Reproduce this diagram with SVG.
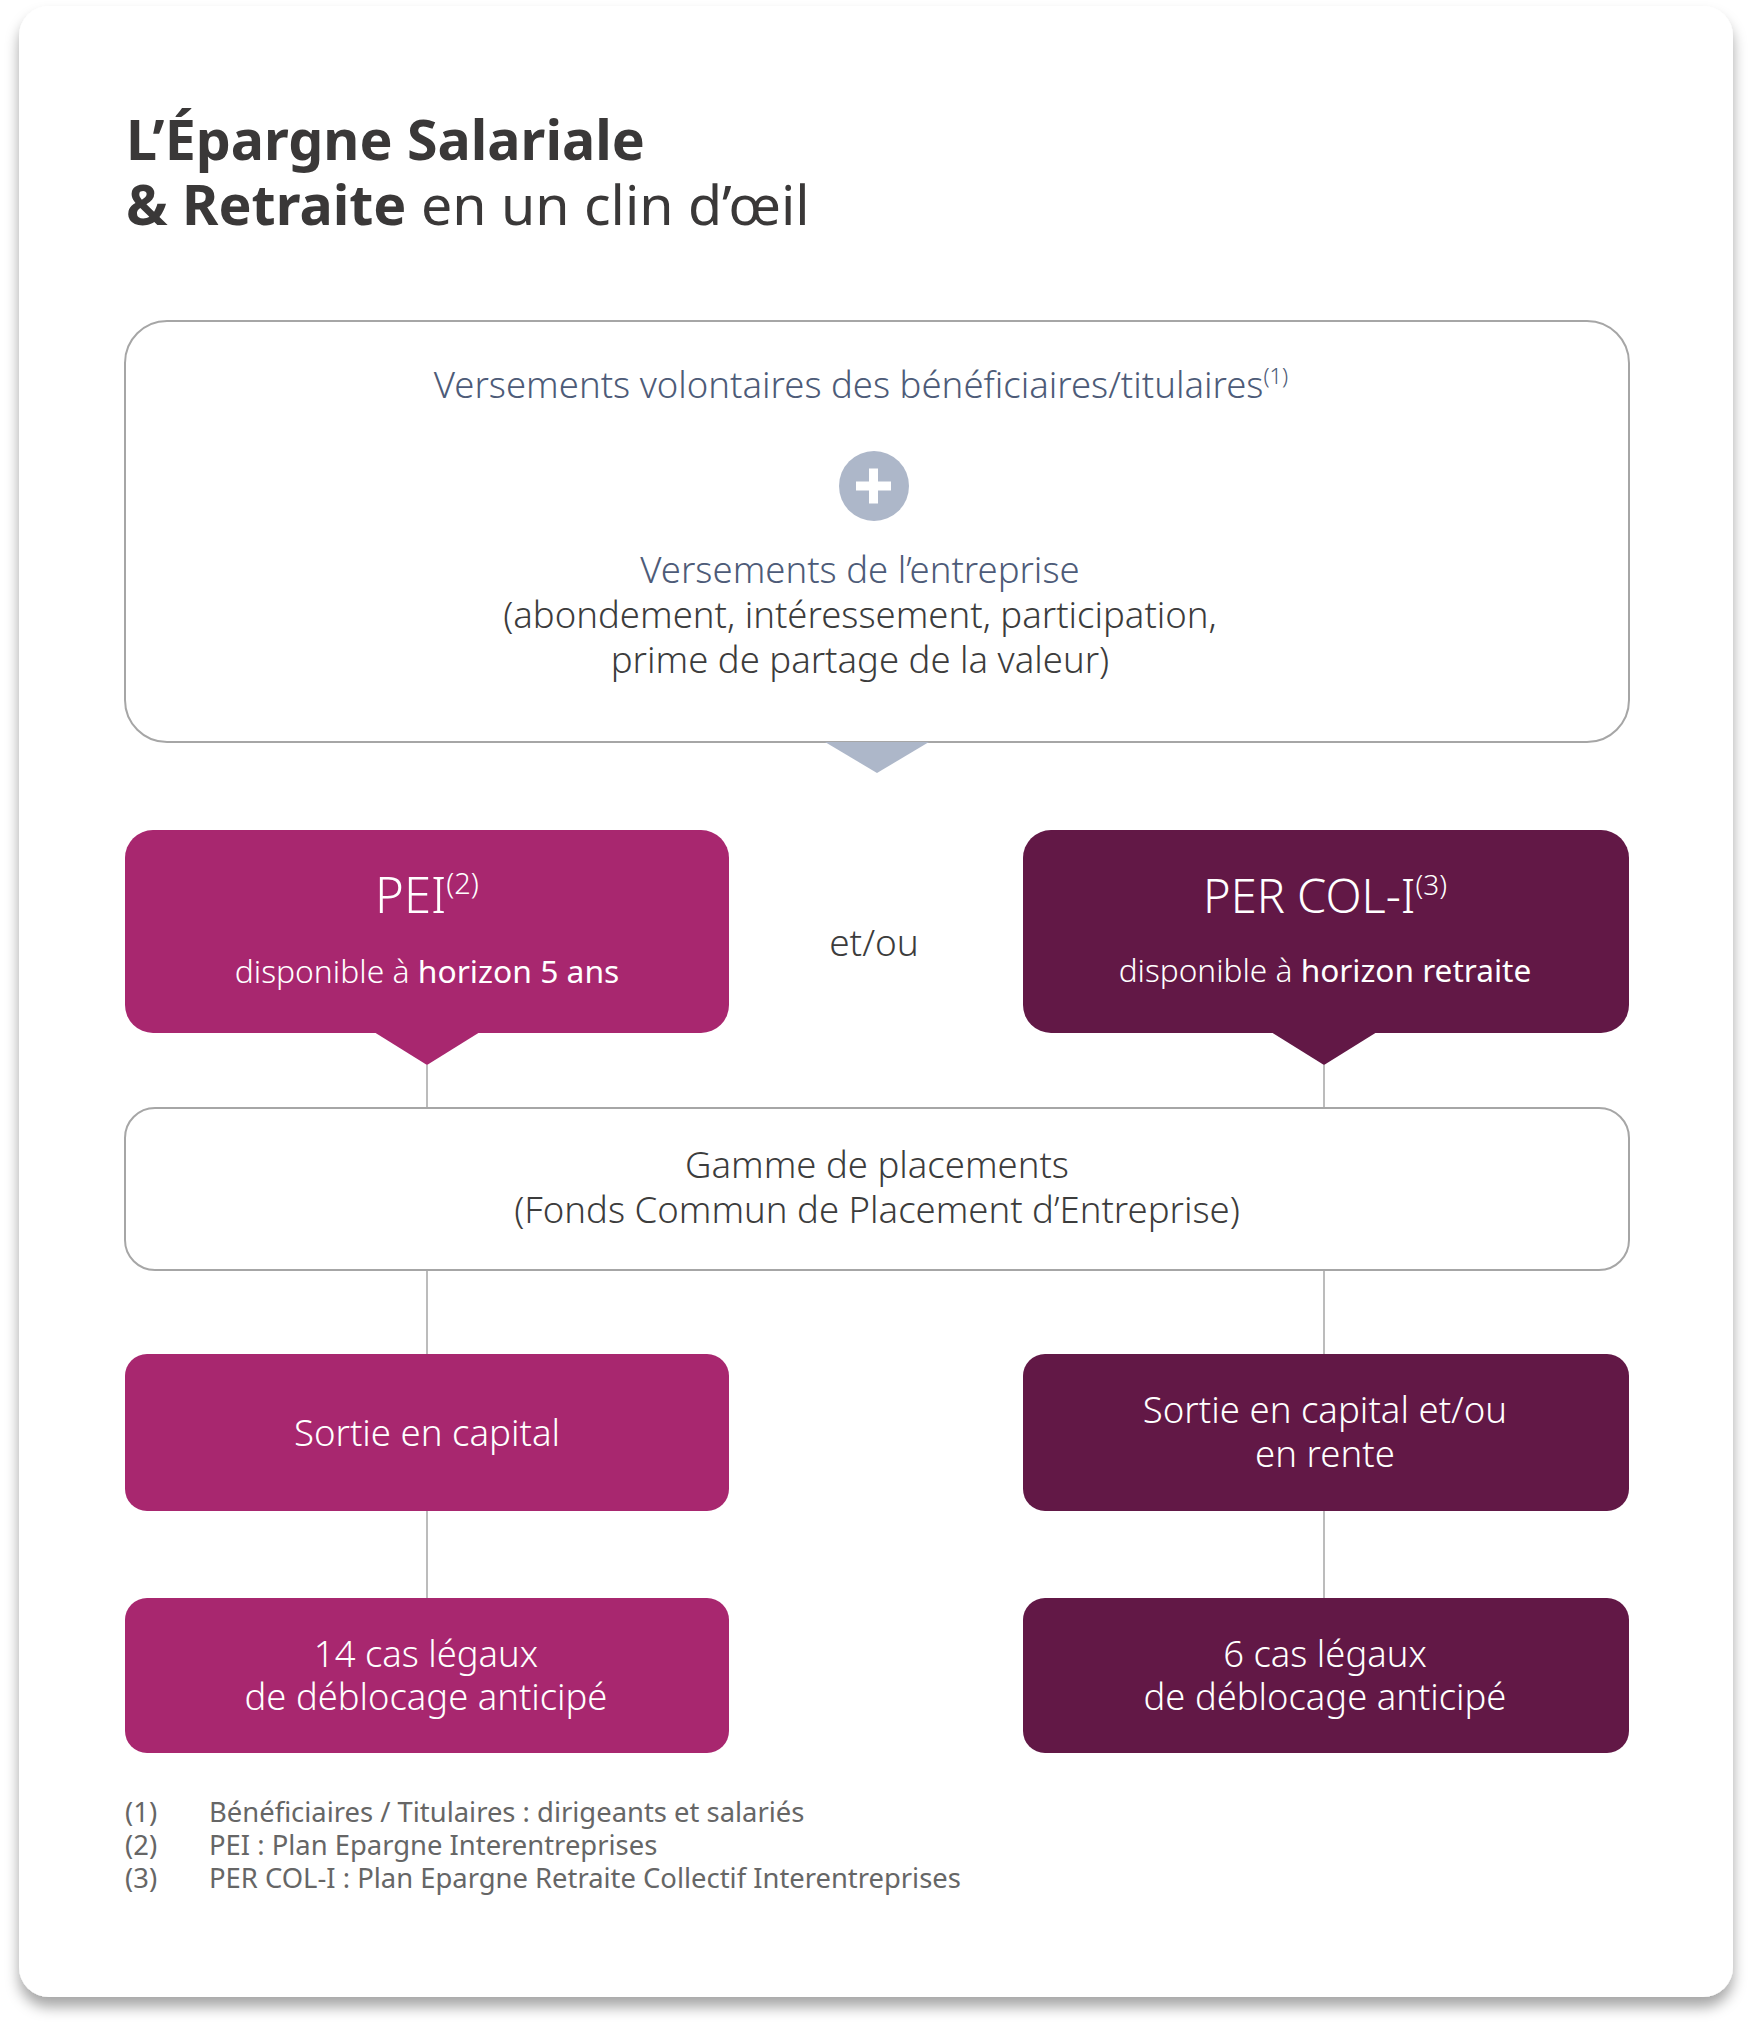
<svg xmlns="http://www.w3.org/2000/svg" width="1752" height="2030" viewBox="0 0 1752 2030">
<style>
text{font-family:"Noto Sans","Open Sans","Liberation Sans",sans-serif;}
.title{font-size:55.5px;fill:#3a3838;font-weight:700;}
.titlel{font-weight:400;}
.slate{fill:#4d5b78;font-size:36.5px;font-weight:300;}
.grey{fill:#3c3c3c;font-size:36.5px;font-weight:300;}
.wh{fill:#ffffff;font-weight:300;}
.foot{fill:#666666;font-size:27.4px;}
.conn{stroke:#a6a6a6;stroke-width:1.5;fill:none;}
.outline{fill:#ffffff;stroke:#a6a6a6;stroke-width:2;}
.mag{fill:#a8276f;}
.plum{fill:#621846;}
</style>
<defs>
<filter id="sh" x="-5%" y="-5%" width="110%" height="110%">
<feDropShadow dx="0" dy="10" stdDeviation="7" flood-color="#000" flood-opacity="0.35"/>
</filter>
</defs>
<rect width="1752" height="2030" fill="#ffffff"/>
<g id="card">
<rect x="19" y="6" width="1714" height="1991" rx="30" fill="#ffffff" filter="url(#sh)"/>
</g>
<g id="title">
<text class="title" x="126" y="160">L’Épargne Salariale</text>
<text class="title" x="126" y="225">&amp; Retraite <tspan class="titlel">en un clin d’œil</tspan></text>
</g>
<g id="connectors">
<path class="conn" d="M427 1065V1107M1324 1065V1107M427 1270V1354M1324 1270V1354M427 1511V1598M1324 1511V1598"/>
</g>
<g id="versements">
<rect class="outline" x="125" y="321" width="1504" height="421" rx="42"/>
<path d="M825 742L877 773L929 742Z" fill="#adb7c9"/>
<text class="slate" x="861" y="398" text-anchor="middle">Versements volontaires des bénéficiaires/titulaires<tspan font-size="22" dy="-14">(1)</tspan></text>
<circle cx="874" cy="486" r="35" fill="#adb7c9"/>
<path d="M856 481.5h35v9h-35zM869 468.5h9v35h-9z" fill="#ffffff"/>
<text class="slate" x="860" y="583" text-anchor="middle">Versements de l’entreprise</text>
<text class="grey" x="860" y="628" text-anchor="middle">(abondement, intéressement, participation,</text>
<text class="grey" x="860" y="673" text-anchor="middle">prime de partage de la valeur)</text>
</g>
<g id="pei">
<rect class="mag" x="125" y="830" width="604" height="203" rx="28"/>
<path class="mag" d="M374 1032L427 1065L480 1032Z"/>
<text class="wh" x="427" y="913" text-anchor="middle" font-size="49">PEI<tspan font-size="29" dy="-19">(2)</tspan></text>
<text class="wh" x="427" y="983" text-anchor="middle" font-size="31.8">disponible à <tspan font-weight="400">horizon 5 ans</tspan></text>
</g>
<g id="etou">
<text x="874" y="956" text-anchor="middle" font-size="37" fill="#3c3c3c" font-weight="300">et/ou</text>
</g>
<g id="percol">
<rect class="plum" x="1023" y="830" width="606" height="203" rx="28"/>
<path class="plum" d="M1271 1032L1324 1065L1377 1032Z"/>
<text class="wh" x="1325" y="913" text-anchor="middle" font-size="47">PER COL-I<tspan font-size="28" dy="-18">(3)</tspan></text>
<text class="wh" x="1325" y="982" text-anchor="middle" font-size="31.6">disponible à <tspan font-weight="400">horizon retraite</tspan></text>
</g>
<g id="gamme">
<rect class="outline" x="125" y="1108" width="1504" height="162" rx="30"/>
<text class="grey" x="877" y="1178" text-anchor="middle">Gamme de placements</text>
<text class="grey" x="877" y="1223" text-anchor="middle">(Fonds Commun de Placement d’Entreprise)</text>
</g>
<g id="sortie-capital">
<rect class="mag" x="125" y="1354" width="604" height="157" rx="22"/>
<text class="wh" x="427" y="1446" text-anchor="middle" font-size="36.6">Sortie en capital</text>
</g>
<g id="sortie-rente">
<rect class="plum" x="1023" y="1354" width="606" height="157" rx="22"/>
<text class="wh" x="1325" y="1423" text-anchor="middle" font-size="36.6">Sortie en capital et/ou</text>
<text class="wh" x="1325" y="1467" text-anchor="middle" font-size="36.6">en rente</text>
</g>
<g id="cas14">
<rect class="mag" x="125" y="1598" width="604" height="155" rx="22"/>
<text class="wh" x="426" y="1667" text-anchor="middle" font-size="36.4">14 cas légaux</text>
<text class="wh" x="426" y="1710" text-anchor="middle" font-size="36.4">de déblocage anticipé</text>
</g>
<g id="cas6">
<rect class="plum" x="1023" y="1598" width="606" height="155" rx="22"/>
<text class="wh" x="1325" y="1667" text-anchor="middle" font-size="36.4">6 cas légaux</text>
<text class="wh" x="1325" y="1710" text-anchor="middle" font-size="36.4">de déblocage anticipé</text>
</g>
<g id="footnotes">
<text class="foot" x="125" y="1822">(1)</text>
<text class="foot" x="209" y="1822">Bénéficiaires / Titulaires : dirigeants et salariés</text>
<text class="foot" x="125" y="1855">(2)</text>
<text class="foot" x="209" y="1855">PEI : Plan Epargne Interentreprises</text>
<text class="foot" x="125" y="1888">(3)</text>
<text class="foot" x="209" y="1888">PER COL-I : Plan Epargne Retraite Collectif Interentreprises</text>
</g>
</svg>
